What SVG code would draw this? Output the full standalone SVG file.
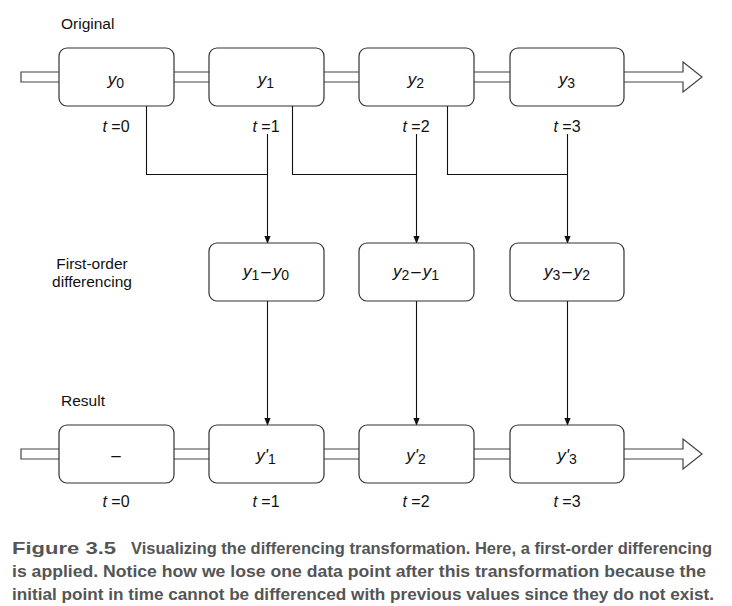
<svg xmlns="http://www.w3.org/2000/svg" width="732" height="606" viewBox="0 0 732 606">
<style>
.box{fill:#fff;stroke:#333;stroke-width:1.2}
.band{fill:#fff;stroke:#444;stroke-width:1.2}
.lbl{font-family:"Liberation Sans",Arial,sans-serif;font-size:15.5px;fill:#111}
.m{font-family:"Liberation Sans",Arial,sans-serif;font-size:17px;fill:#111;text-anchor:middle}
.mi{font-style:italic}
.sub{font-size:14px}
.t{font-family:"Liberation Sans",Arial,sans-serif;font-size:16px;fill:#111;text-anchor:middle}
.con{fill:none;stroke:#111;stroke-width:1.1}
.cap{font-family:"Liberation Sans Narrow","Liberation Sans",Arial,sans-serif;font-weight:bold;font-size:17px;fill:#555}
</style>
<defs>
<marker id="ahd" markerWidth="8" markerHeight="10" refX="9" refY="4" orient="auto" markerUnits="userSpaceOnUse" viewBox="0 0 10 8">
<path d="M0,0 L10,4 L0,8 Z" fill="#111"/>
</marker>
</defs>

<g id="band-top">
<polygon class="band" points="21,72 683,72 683,62 702,77 683,92 683,82 21,82"/>
</g>
<g id="band-bottom">
<polygon class="band" points="21,449 683,449 683,439 702,454 683,469 683,459 21,459"/>
</g>

<text class="lbl" x="61" y="29">Original</text>
<text class="lbl" x="92" y="269" text-anchor="middle">First-order</text>
<text class="lbl" x="92" y="287" text-anchor="middle">differencing</text>
<text class="lbl" x="61" y="406">Result</text>

<g id="connectors">
<path class="con" d="M146.5,106 V174.5 H267.5"/>
<path class="con" d="M292.5,106 V174.5 H416.5"/>
<path class="con" d="M447.5,106 V174.5 H567.5"/>
<path class="con" d="M267.5,134 V243" marker-end="url(#ahd)"/>
<path class="con" d="M416.5,134 V243" marker-end="url(#ahd)"/>
<path class="con" d="M567.5,134 V243" marker-end="url(#ahd)"/>
<path class="con" d="M267.5,301 V425" marker-end="url(#ahd)"/>
<path class="con" d="M416.5,301 V425" marker-end="url(#ahd)"/>
<path class="con" d="M567.5,301 V425" marker-end="url(#ahd)"/>
</g>

<g id="y0"><rect class="box" x="59" y="48" width="115" height="58" rx="8"/><text class="m" x="116" y="85"><tspan class="mi">y</tspan><tspan class="sub" dy="3">0</tspan></text></g>
<g id="y1"><rect class="box" x="209" y="48" width="115" height="58" rx="8"/><text class="m" x="266" y="85"><tspan class="mi">y</tspan><tspan class="sub" dy="3">1</tspan></text></g>
<g id="y2"><rect class="box" x="359" y="48" width="115" height="58" rx="8"/><text class="m" x="416" y="85"><tspan class="mi">y</tspan><tspan class="sub" dy="3">2</tspan></text></g>
<g id="y3"><rect class="box" x="510" y="48" width="114" height="58" rx="8"/><text class="m" x="567" y="85"><tspan class="mi">y</tspan><tspan class="sub" dy="3">3</tspan></text></g>

<text class="t" x="116" y="132"><tspan class="mi">t</tspan> =0</text>
<text class="t" x="266" y="132"><tspan class="mi">t</tspan> =1</text>
<text class="t" x="416" y="132"><tspan class="mi">t</tspan> =2</text>
<text class="t" x="567" y="132"><tspan class="mi">t</tspan> =3</text>

<g id="d1"><rect class="box" x="209" y="243" width="115" height="58" rx="8"/><text class="m" x="266" y="277"><tspan class="mi">y</tspan><tspan class="sub" dy="3">1</tspan><tspan dx="2" dy="-3">–</tspan><tspan class="mi" dx="2">y</tspan><tspan class="sub" dy="3">0</tspan></text></g>
<g id="d2"><rect class="box" x="359" y="243" width="115" height="58" rx="8"/><text class="m" x="416" y="277"><tspan class="mi">y</tspan><tspan class="sub" dy="3">2</tspan><tspan dx="2" dy="-3">–</tspan><tspan class="mi" dx="2">y</tspan><tspan class="sub" dy="3">1</tspan></text></g>
<g id="d3"><rect class="box" x="510" y="243" width="114" height="58" rx="8"/><text class="m" x="567" y="277"><tspan class="mi">y</tspan><tspan class="sub" dy="3">3</tspan><tspan dx="2" dy="-3">–</tspan><tspan class="mi" dx="2">y</tspan><tspan class="sub" dy="3">2</tspan></text></g>

<g id="r0"><rect class="box" x="59" y="425" width="115" height="58" rx="8"/><text class="m" x="116" y="461">–</text></g>
<g id="r1"><rect class="box" x="209" y="425" width="115" height="58" rx="8"/><text class="m" x="266" y="461"><tspan class="mi">y'</tspan><tspan class="sub" dy="3">1</tspan></text></g>
<g id="r2"><rect class="box" x="359" y="425" width="115" height="58" rx="8"/><text class="m" x="416" y="461"><tspan class="mi">y'</tspan><tspan class="sub" dy="3">2</tspan></text></g>
<g id="r3"><rect class="box" x="510" y="425" width="114" height="58" rx="8"/><text class="m" x="567" y="461"><tspan class="mi">y'</tspan><tspan class="sub" dy="3">3</tspan></text></g>

<text class="t" x="116" y="507"><tspan class="mi">t</tspan> =0</text>
<text class="t" x="266" y="507"><tspan class="mi">t</tspan> =1</text>
<text class="t" x="416" y="507"><tspan class="mi">t</tspan> =2</text>
<text class="t" x="567" y="507"><tspan class="mi">t</tspan> =3</text>

<text class="cap" x="12" y="554" textLength="104" lengthAdjust="spacingAndGlyphs">Figure 3.5</text>
<text class="cap" x="131" y="554" textLength="581" lengthAdjust="spacingAndGlyphs">Visualizing the differencing transformation. Here, a first-order differencing</text>
<text class="cap" x="12" y="577" textLength="694" lengthAdjust="spacingAndGlyphs">is applied. Notice how we lose one data point after this transformation because the</text>
<text class="cap" x="12" y="600" textLength="702" lengthAdjust="spacingAndGlyphs">initial point in time cannot be differenced with previous values since they do not exist.</text>
</svg>
